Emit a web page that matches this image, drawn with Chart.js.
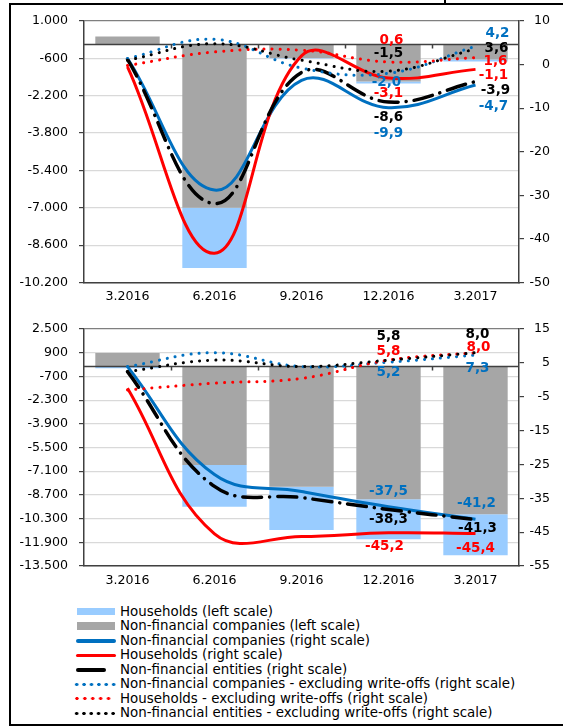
<!DOCTYPE html>
<html>
<head>
<meta charset="utf-8">
<script src="https://cdn.jsdelivr.net/npm/chart.js"></script>
<title>Write-offs and credit growth</title>
<style>
  body { margin: 0; background: #fff; width: 563px; height: 726px; position: relative; overflow: hidden;
         font-family: "DejaVu Sans", Verdana, sans-serif; }
  canvas { position: absolute; left: 0; }
  #frame { position: absolute; left: 9px; top: 3px; width: 600px; height: 719px;
           border-top: 2px solid #000; border-left: 2px solid #000; border-bottom: 2px solid #000; }
  #cut { position: absolute; left: 444px; top: 0; width: 1.5px; height: 4px; background: #000; }
  #legend { position: absolute; left: 76px; top: 604.5px; font-size: 13.4px; line-height: 14.5px; color: #000; }
  .row { position: relative; height: 14.5px; padding-left: 44px; white-space: nowrap; }
  .mk { position: absolute; top: 50%; }
</style>
</head>
<body>
<div id="frame"></div>
<div id="cut"></div>
<canvas id="topChart" width="563" height="310" style="top:0"></canvas>
<canvas id="bottomChart" width="563" height="290" style="top:310px"></canvas>
<div id="legend"></div>

<script>
/** data **/
const categories = ['3.2016', '6.2016', '9.2016', '12.2016', '3.2017'];

// upper panel
const topNfcBars  = [340, -7000, -580, -1590, -650];
const topHhBars   = [0, -2580, -30, -90, -80];
const topNfc      = [1.4, -28.8, -3.6, -9.9, -4.7];
const topHh       = [-0.5, -43.3, 2.0, -3.1, -1.1];
const topNfe      = [1.2, -31.9, -1.8, -8.6, -3.9];
const topNfcExcl  = [1.4, 5.8, -0.8, -2.0, 4.2];
const topHhExcl   = [-0.2, 2.9, 3.3, 0.6, 1.6];
const topNfeExcl  = [1.0, 4.8, 1.0, -1.5, 3.6];

// lower panel
const botNfcBars  = [880, -6685, -8150, -9000, -10000];
const botHhBars   = [-150, -2815, -2925, -2700, -2770];
const botNfc      = [3.9, -28.0, -33.0, -37.5, -41.2];
const botHh       = [-2.5, -45.5, -46.3, -45.2, -45.4];
const botNfe      = [2.4, -31.5, -34.8, -38.3, -41.3];
const botNfcExcl  = [3.9, 8.0, 3.9, 5.2, 7.3];
const botHhExcl   = [-3.0, -1.0, 0.4, 5.8, 8.0];
const botNfeExcl  = [2.4, 5.8, 3.9, 5.8, 8.0];

const legendLabels = [
  'Households (left scale)',
  'Non-financial companies (left scale)',
  'Non-financial companies (right scale)',
  'Households (right scale)',
  'Non-financial entities (right scale)',
  'Non-financial companies - excluding write-offs (right scale)',
  'Households - excluding write-offs (right scale)',
  'Non-financial entities - excluding write-offs (right scale)'
];

const BLUE = '#0070C0', RED = '#FF0000', BLACK = '#000000', LIGHT = '#99CCFF', GRAY = '#A6A6A6';
const FONT = '"DejaVu Sans", Verdana, sans-serif';

Chart.defaults.font.family = FONT;
Chart.defaults.font.size = 12.6;
Chart.defaults.color = '#000';

function thousands(v) {
  const s = String(Math.abs(v)).replace(/\B(?=(\d{3})+(?!\d))/g, '.');
  return (v < 0 ? '-' : '') + s;
}
function comma(v) { return v.toFixed(1).replace('.', ','); }

function barDs(label, data, color) {
  return { type: 'bar', label, data, yAxisID: 'yL', backgroundColor: color, borderWidth: 0,
           barPercentage: 0.74, categoryPercentage: 1, stack: 's', order: 10 };
}
function lineDs(label, data, color, kind, order) {
  const ds = { type: 'line', label, data, yAxisID: 'yR', borderColor: color, backgroundColor: color,
               pointRadius: 0, tension: 0.4, fill: false, order, borderCapStyle: 'round', borderJoinStyle: 'round' };
  if (kind === 'solid') { ds.borderWidth = 3; ds.borderCapStyle = 'butt'; }
  if (kind === 'dashdot') { ds.borderWidth = 3.5; ds.borderDash = [19, 8, 0.1, 8]; }
  if (kind === 'dot') { ds.borderWidth = 3; ds.borderDash = [0.1, 8]; }
  return ds;
}

// zero line of the left axis with category tick marks, drawn over the bars
const zeroLine = {
  id: 'zeroLine',
  afterDatasetDraw(chart, args) {
    if (args.index !== 0) return;
    const { ctx, chartArea } = chart;
    const y = Math.round(chart.scales.yL.getPixelForValue(0)) + 0.5;
    const xs = chart.scales.x;
    const w = xs.getPixelForValue(1) - xs.getPixelForValue(0);
    ctx.save();
    ctx.strokeStyle = '#404040';
    ctx.lineWidth = 1.5;
    ctx.beginPath();
    ctx.moveTo(chartArea.left, y);
    ctx.lineTo(chartArea.right, y);
    for (let i = 1; i < categories.length; i++) {
      const x = Math.round(xs.getPixelForValue(i) - w / 2) + 0.5;
      ctx.moveTo(x, y);
      ctx.lineTo(x, y + 4);
    }
    ctx.stroke();
    ctx.restore();
  }
};

// value labels next to the line ends
const valueLabels = {
  id: 'valueLabels',
  afterDraw(chart, args, opts) {
    const { ctx } = chart;
    ctx.save();
    ctx.font = 'bold 13.5px ' + FONT;
    ctx.textAlign = 'center';
    ctx.textBaseline = 'middle';
    (opts.items || []).forEach(it => {
      const ds = chart.data.datasets[it.ds];
      const pt = chart.getDatasetMeta(it.ds).data[it.i];
      ctx.fillStyle = ds.borderColor;
      ctx.fillText(comma(ds.data[it.i]), pt.x + (it.dx || 0), pt.y + it.dy);
    });
    ctx.restore();
  }
};

function makeChart(id, s, cfg) {
  return new Chart(document.getElementById(id), {
    type: 'bar',
    data: {
      labels: categories,
      datasets: [
        barDs(legendLabels[1], s.nfcBars, GRAY),
        barDs(legendLabels[0], s.hhBars, LIGHT),
        lineDs(legendLabels[2], s.nfc, BLUE, 'solid', 6),
        lineDs(legendLabels[3], s.hh, RED, 'solid', 5),
        lineDs(legendLabels[4], s.nfe, BLACK, 'dashdot', 4),
        lineDs(legendLabels[5], s.nfcExcl, BLUE, 'dot', 3),
        lineDs(legendLabels[6], s.hhExcl, RED, 'dot', 2),
        lineDs(legendLabels[7], s.nfeExcl, BLACK, 'dot', 1)
      ]
    },
    options: {
      responsive: false,
      animation: false,
      devicePixelRatio: 1,
      events: [],
      layout: { padding: { left: 0, right: 13, top: cfg.padTop, bottom: 0 } },
      plugins: {
        legend: { display: false },
        tooltip: { enabled: false },
        valueLabels: { items: cfg.labels }
      },
      scales: {
        x: {
          stacked: true,
          grid: { display: false, drawTicks: false },
          border: { display: true, color: '#404040', width: 1.5 },
          ticks: { padding: 7, color: '#000' },
          afterFit(sc) { sc.height = cfg.xHeight; }
        },
        yL: {
          position: 'left', stacked: true, min: cfg.lMin, max: cfg.lMax,
          ticks: { stepSize: 1600, padding: 11, callback: v => thousands(v) },
          grid: {
            color: c => (c.tick && c.tick.value === cfg.lMax ? '#7F7F7F' : '#D9D9D9'),
            lineWidth: 1.2, tickLength: 5, tickColor: '#404040', tickWidth: 1.2
          },
          border: { color: '#404040', width: 1.5 },
          afterFit(sc) { sc.width = 84; }
        },
        yR: {
          position: 'right', min: cfg.rMin, max: cfg.rMax,
          ticks: { stepSize: 10, crossAlign: 'far' },
          grid: { drawOnChartArea: false, tickLength: 5, color: '#404040', lineWidth: 1.2 },
          border: { color: '#404040', width: 1.5 },
          afterFit(sc) { sc.width = 31; }
        }
      }
    },
    plugins: [zeroLine, valueLabels]
  });
}

makeChart('topChart', {
  nfcBars: topNfcBars, hhBars: topHhBars, nfc: topNfc, hh: topHh, nfe: topNfe,
  nfcExcl: topNfcExcl, hhExcl: topHhExcl, nfeExcl: topNfeExcl
}, {
  padTop: 21, xHeight: 27.5, lMin: -10200, lMax: 1000, rMin: -50, rMax: 10,
  labels: [
    { ds: 6, i: 3, dx: 3, dy: -21 },
    { ds: 7, i: 3, dx: 0, dy: -17.5 },
    { ds: 5, i: 3, dx: -2, dy: 9 },
    { ds: 3, i: 3, dx: 0, dy: 15 },
    { ds: 4, i: 3, dx: 0, dy: 15.5 },
    { ds: 2, i: 3, dx: 0, dy: 26 },
    { ds: 5, i: 4, dx: 22, dy: -13 },
    { ds: 7, i: 4, dx: 21, dy: 0 },
    { ds: 6, i: 4, dx: 20, dy: 3.5 },
    { ds: 3, i: 4, dx: 18, dy: 6 },
    { ds: 4, i: 4, dx: 20, dy: 9 },
    { ds: 2, i: 4, dx: 18, dy: 21 }
  ]
});

makeChart('bottomChart', {
  nfcBars: botNfcBars, hhBars: botHhBars, nfc: botNfc, hh: botHh, nfe: botNfe,
  nfcExcl: botNfcExcl, hhExcl: botHhExcl, nfeExcl: botNfeExcl
}, {
  padTop: 19, xHeight: 34, lMin: -13500, lMax: 2500, rMin: -55, rMax: 15,
  labels: [
    { ds: 7, i: 3, dx: 0, dy: -23.5 },
    { ds: 6, i: 3, dx: 0, dy: -8.5 },
    { ds: 5, i: 3, dx: 0, dy: 10.5 },
    { ds: 2, i: 3, dx: 0, dy: -15 },
    { ds: 4, i: 3, dx: 0, dy: 10.5 },
    { ds: 3, i: 3, dx: -4, dy: 14 },
    { ds: 7, i: 4, dx: 2, dy: -18.7 },
    { ds: 6, i: 4, dx: 3, dy: -5.4 },
    { ds: 5, i: 4, dx: 2, dy: 13 },
    { ds: 2, i: 4, dx: 1, dy: -16 },
    { ds: 4, i: 4, dx: 2, dy: 9 },
    { ds: 3, i: 4, dx: 0, dy: 15 }
  ]
});

/** legend **/
const markers = [
  'left:1px;width:38px;height:7px;margin-top:-3.5px;background:' + LIGHT,
  'left:1px;width:38px;height:8px;margin-top:-4px;background:' + GRAY,
  'left:0;width:40px;height:3.5px;margin-top:-1.75px;border-radius:2px;background:' + BLUE,
  'left:0;width:40px;height:3.5px;margin-top:-1.75px;border-radius:2px;background:' + RED,
  'left:0;width:30px;height:4px;margin-top:-2px;border-radius:2px;background:' + BLACK,
  'left:-3px;width:44.4px;height:5px;margin-top:-2.5px;background:radial-gradient(circle,' + BLUE + ' 1.4px,transparent 1.9px) 0 0/7.4px 5px repeat-x',
  'left:-3.3px;width:39.5px;height:5px;margin-top:-2.5px;background:radial-gradient(circle,' + RED + ' 1.4px,transparent 1.9px) 0 0/7.9px 5px repeat-x',
  'left:-3px;width:43.8px;height:5px;margin-top:-2.5px;background:radial-gradient(circle,' + BLACK + ' 1.4px,transparent 1.9px) 0 0/7.3px 5px repeat-x'
];
const legend = document.getElementById('legend');
legendLabels.forEach((txt, k) => {
  const row = document.createElement('div');
  row.className = 'row';
  const mk = document.createElement('span');
  mk.className = 'mk';
  mk.style.cssText = markers[k];
  row.appendChild(mk);
  row.appendChild(document.createTextNode(txt));
  legend.appendChild(row);
});
</script>
</body>
</html>
